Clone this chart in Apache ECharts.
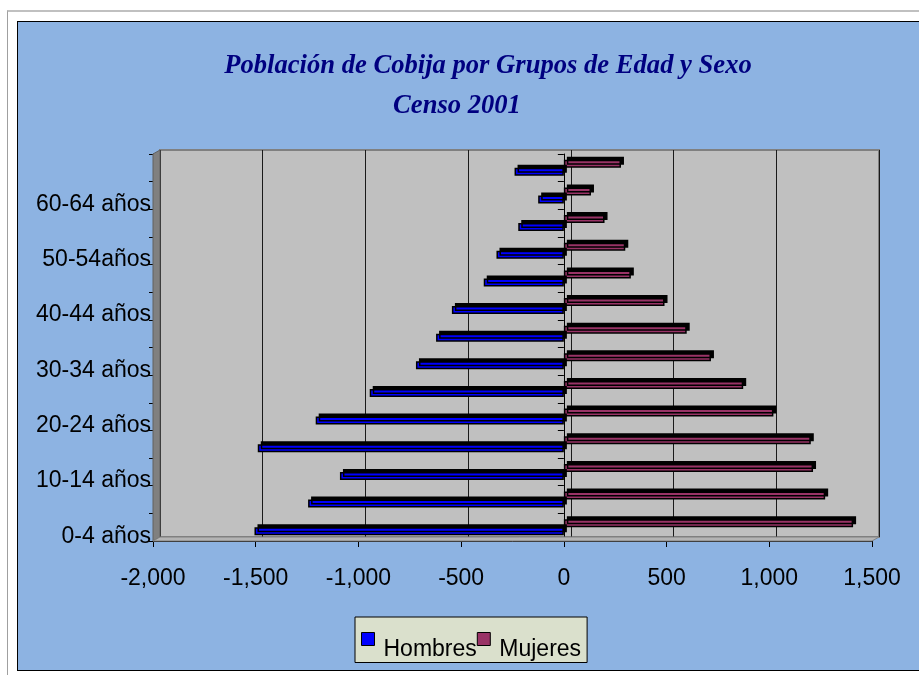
<!DOCTYPE html>
<html>
<head>
<meta charset="utf-8">
<script src="https://cdn.jsdelivr.net/npm/echarts@6/dist/echarts.min.js"></script>
<style>
  body { margin: 0; background: #fff; }
  #frame { position: absolute; left: 7px; top: 10px; width: 920px; height: 670px;
           border-top: 2px solid #C0C0C0; border-left: 1px solid #A0A0A0; }
  #area { position: absolute; left: 17px; top: 21px; width: 910px; height: 648px;
          background: #8DB3E2; border: 1px solid #000; }
  #myChart { position: absolute; left: 0; top: 0; width: 919px; height: 675px; }
</style>
</head>
<body>
<div id="frame"></div>
<div id="area"></div>
<div id="myChart"></div>
<script>
// grupos de edad, de abajo hacia arriba
const categories = ['0-4 años', '5-9 años', '10-14 años', '15-19 años', '20-24 años', '25-29 años',
  '30-34 años', '35-39 años', '40-44 años', '45-49 años', '50-54años', '55-59 años',
  '60-64 años', '65 y más'];
const hombres = [-1506, -1245, -1090, -1490, -1208, -945, -720, -622, -545, -390, -328, -222, -125, -240];
const mujeres = [1408, 1272, 1213, 1202, 1020, 873, 716, 598, 490, 326, 299, 198, 132, 278];
const xTicks = [-2000, 1500, 500]; // min, max, interval

const plot = { left: 153, top: 154, width: 719, height: 387 };
const depth = { x: 7, y: -4 };
const font = 'Liberation Sans, Arial, sans-serif';
const serif = 'Liberation Serif, Times New Roman, serif';

function fmt(v) {
  return v.toLocaleString('en-US');
}

let myChart = echarts.init(document.getElementById('myChart'));

const barStyle = function (color) {
  return {
    color: color,
    borderColor: '#000',
    borderWidth: 1.5,
    shadowColor: '#000',
    shadowBlur: 0,
    shadowOffsetX: 3,
    shadowOffsetY: -3
  };
};

const L = plot.left, T = plot.top, R = plot.left + plot.width, B = plot.top + plot.height;

let option = {
  backgroundColor: 'transparent',
  animation: false,
  title: [
    {
      text: 'Población de Cobija por Grupos de Edad y Sexo',
      left: 483, top: 48, textAlign: 'center',
      textStyle: { fontFamily: serif, fontStyle: 'italic', fontWeight: 'bold', fontSize: 26.6, color: '#000080' }
    },
    {
      text: 'Censo 2001',
      left: 452, top: 88, textAlign: 'center',
      textStyle: { fontFamily: serif, fontStyle: 'italic', fontWeight: 'bold', fontSize: 26.6, color: '#000080' }
    }
  ],
  legend: {
    data: ['Hombres', 'Mujeres'],
    left: 355, top: 617,
    orient: 'horizontal',
    icon: 'rect',
    itemWidth: 13, itemHeight: 13, itemGap: 0,
    padding: [15, 6, 1, 6],
    backgroundColor: '#DAE0CC',
    borderColor: '#000', borderWidth: 1, borderRadius: 0,
    itemStyle: { borderColor: '#000', borderWidth: 1 },
    formatter: '{a|{name}}',
    textStyle: {
      fontFamily: font, fontSize: 23, color: '#000',
      rich: { a: { fontFamily: font, fontSize: 23, color: '#000', padding: [22, 0, 0, 4] } }
    }
  },
  graphic: [
    { // pared izquierda
      type: 'polygon', z: 1, silent: true,
      shape: { points: [[L, T], [L + depth.x, T + depth.y], [L + depth.x, B + depth.y], [L, B]] },
      style: { fill: '#808080', stroke: '#606060', lineWidth: 1 }
    },
    { // piso
      type: 'polygon', z: 1, silent: true,
      shape: { points: [[L, B], [L + depth.x, B + depth.y], [R + depth.x, B + depth.y], [R, B]] },
      style: { fill: '#B4B4B4', stroke: '#808080', lineWidth: 1 }
    }
  ],
  grid: [
    { left: plot.left, top: plot.top, width: plot.width, height: plot.height, z: 3 },
    { left: plot.left + depth.x, top: plot.top + depth.y, width: plot.width, height: plot.height,
      show: true, backgroundColor: '#C0C0C0', borderColor: '#808080', borderWidth: 2, z: 0 }
  ],
  xAxis: [
    {
      type: 'value', gridIndex: 0,
      min: xTicks[0], max: xTicks[1], interval: xTicks[2],
      axisLine: { show: true, onZero: false, lineStyle: { color: '#000', width: 1 } },
      axisTick: { show: true, length: 6, lineStyle: { color: '#000' } },
      axisLabel: { formatter: fmt, fontFamily: font, fontSize: 23, color: '#000', margin: 26 },
      splitLine: { show: false }
    },
    {
      type: 'value', gridIndex: 1,
      min: xTicks[0], max: xTicks[1], interval: xTicks[2],
      axisLine: { show: false }, axisTick: { show: false }, axisLabel: { show: false },
      splitLine: { show: true, lineStyle: { color: '#1a1a1a', width: 1 } }
    }
  ],
  yAxis: [
    {
      type: 'category', gridIndex: 0, position: 'left', data: categories,
      axisLine: { show: true, onZero: false, lineStyle: { color: '#000', width: 1 } },
      axisTick: { show: true, length: 4, interval: 0, lineStyle: { color: '#000' } },
      axisLabel: {
        interval: 1, margin: 2,
        formatter: '{a|{value}}',
        rich: { a: { fontFamily: font, fontSize: 23, color: '#000', padding: [18, 0, 0, 0] } }
      }
    },
    {
      type: 'category', gridIndex: 0, position: 'left', data: categories,
      axisLine: { show: true, onZero: true, lineStyle: { color: '#000', width: 1 } },
      axisTick: { show: true, length: 6, interval: 0, lineStyle: { color: '#000' } },
      axisLabel: { show: false }
    },
    {
      type: 'category', gridIndex: 1, data: categories,
      axisLine: { show: false }, axisTick: { show: false }, axisLabel: { show: false }
    }
  ],
  series: [
    {
      name: 'Mujeres', type: 'bar', xAxisIndex: 0, yAxisIndex: 0,
      barWidth: 8, barGap: '0%',
      itemStyle: barStyle('#993366'),
      data: mujeres
    },
    {
      name: 'Hombres', type: 'bar', xAxisIndex: 0, yAxisIndex: 0,
      barWidth: 8, barGap: '0%',
      itemStyle: barStyle('#0000FF'),
      data: hombres
    }
  ]
};
myChart.setOption(option);
</script>
</body>
</html>
